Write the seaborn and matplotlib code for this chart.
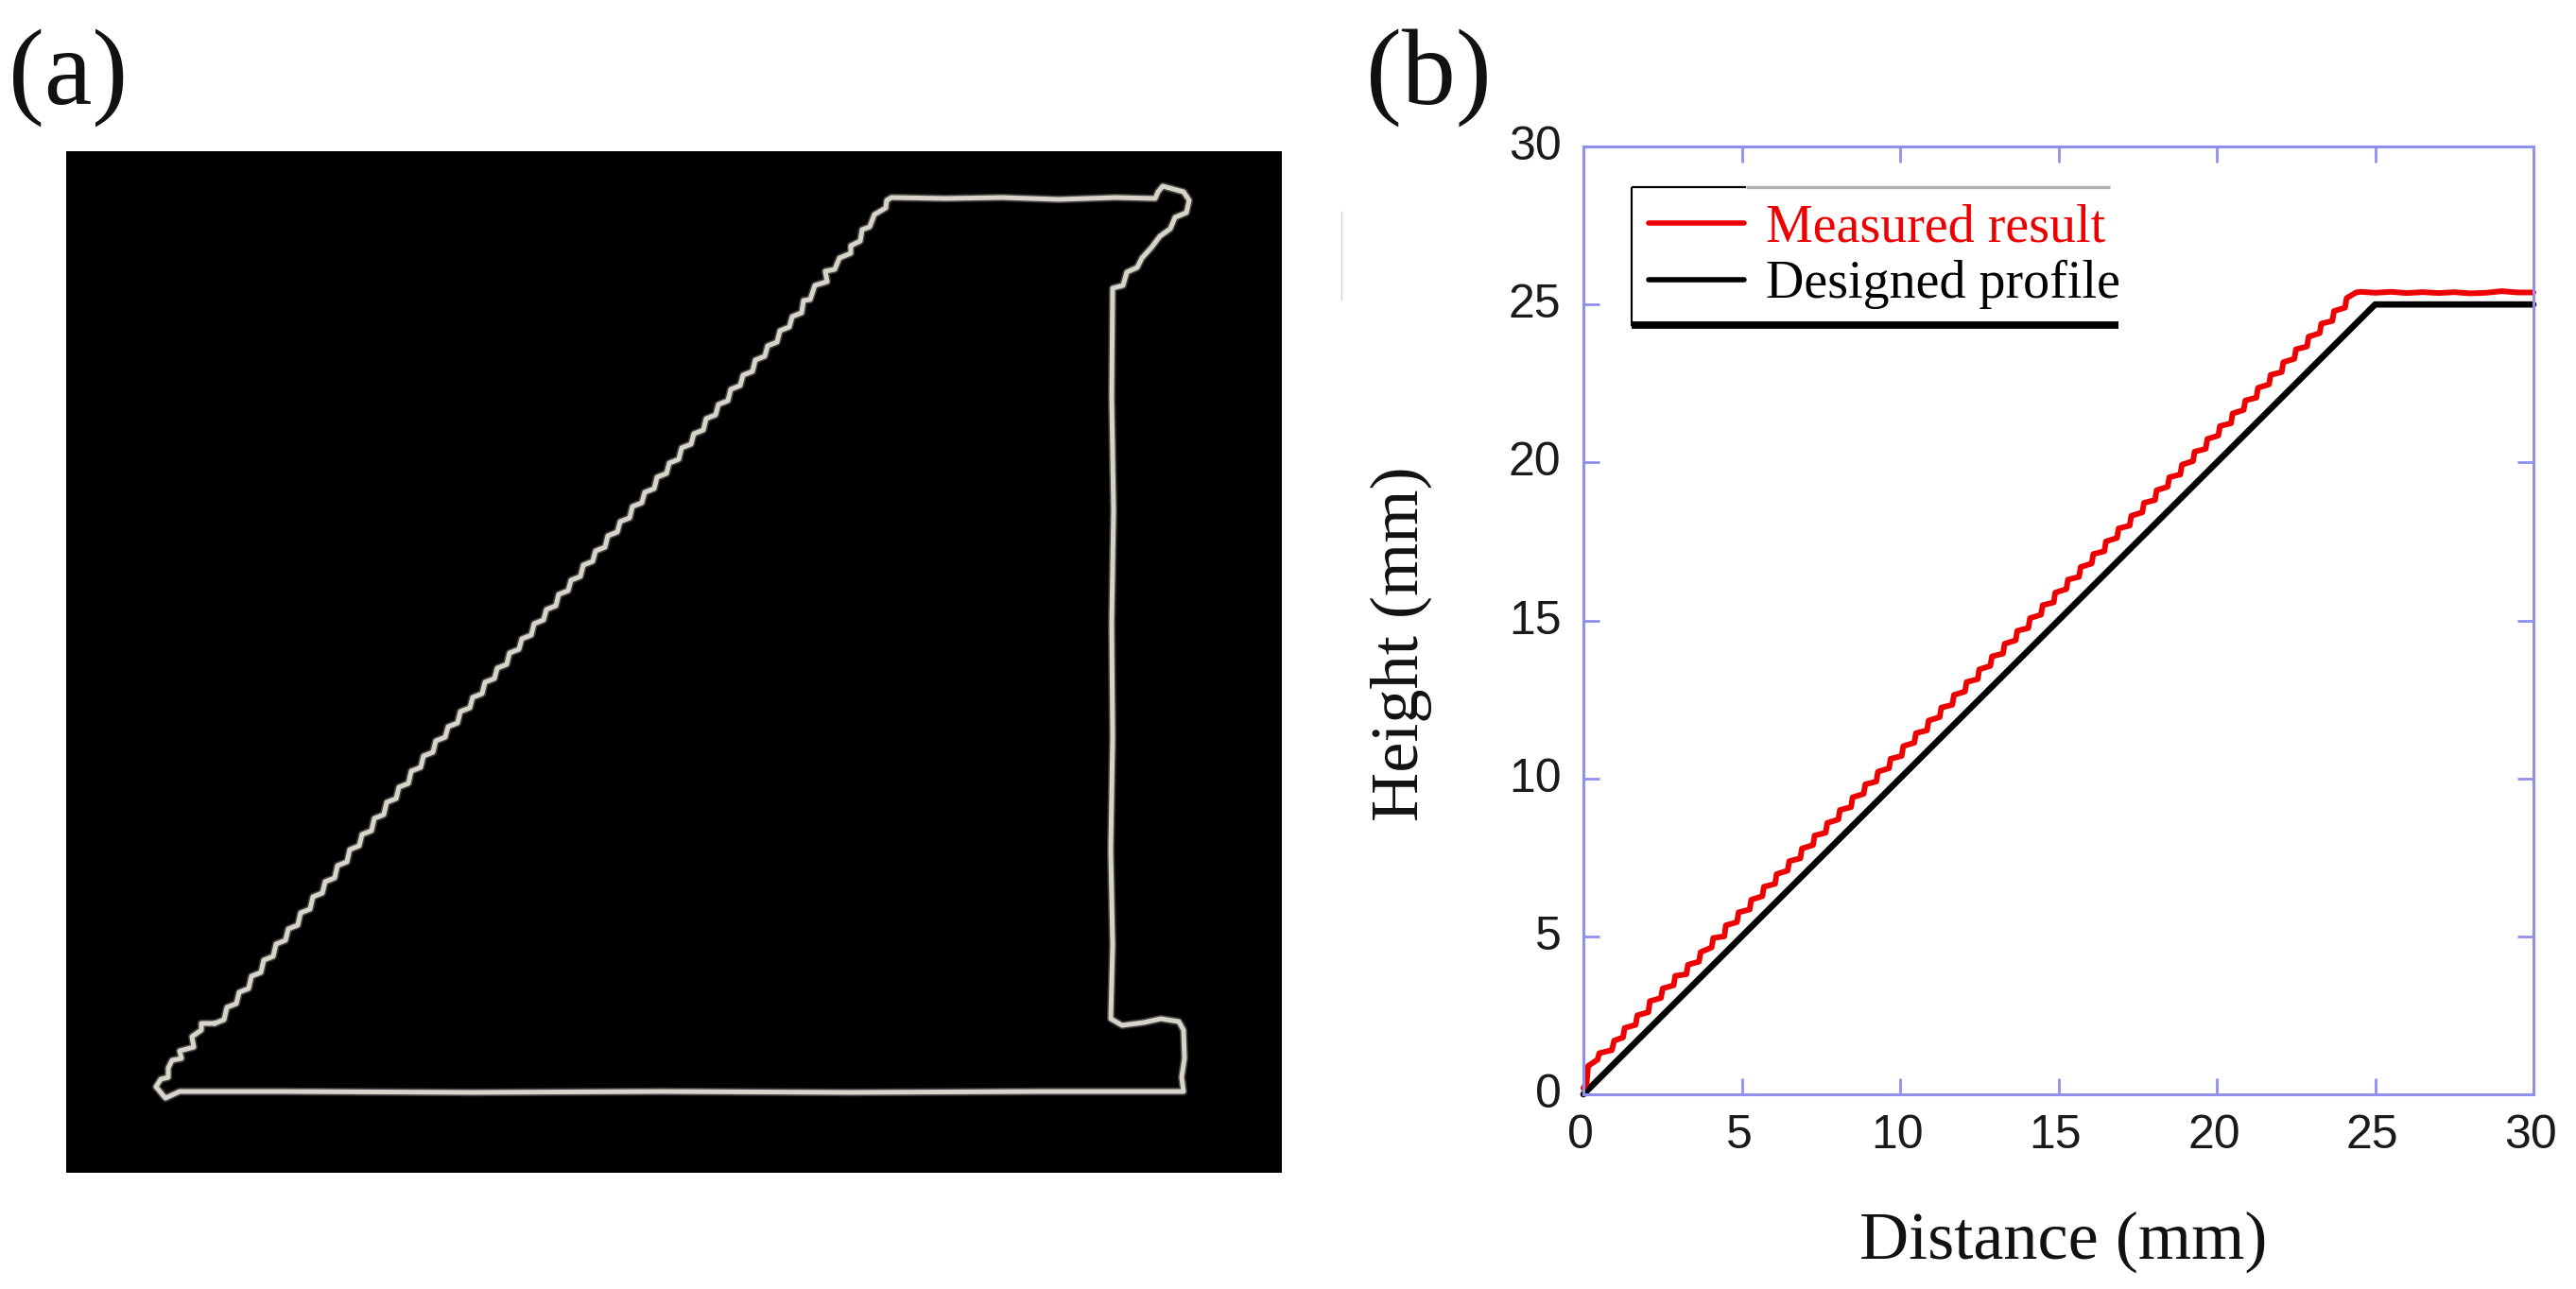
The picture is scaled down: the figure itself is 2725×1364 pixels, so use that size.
import matplotlib
matplotlib.use("Agg")
import matplotlib.pyplot as plt
from matplotlib.lines import Line2D
from matplotlib.transforms import ScaledTranslation
import seaborn as sns

W, H = 2725, 1364

# Panel (b) tick labels
tick_values = [0, 5, 10, 15, 20, 25, 30]

# Designed profile
designed_x = [0, 25, 30]
designed_y = [0, 25, 25]

# Measured result
measured_x = [0.0, 0.1, 0.15, 0.45,
    0.5, 0.9, 0.97, 1.25, 1.3, 1.65, 1.7, 2.05, 2.1, 2.45, 2.5, 2.85, 2.9, 3.25, 3.3, 3.65, 3.7, 4.05, 4.1, 4.45,
    4.5, 4.85, 4.9, 5.25, 5.3, 5.65, 5.7, 6.05, 6.1, 6.45, 6.5, 6.85, 6.9, 7.25, 7.3, 7.65, 7.7, 8.05, 8.1, 8.45,
    8.5, 8.85, 8.9, 9.25, 9.3, 9.65, 9.7, 10.05, 10.1, 10.45, 10.5, 10.85, 10.9, 11.25, 11.3, 11.65, 11.7, 12.05,
    12.1, 12.45, 12.5, 12.85, 12.9, 13.25, 13.3, 13.65, 13.7, 14.05, 14.1, 14.45, 14.5, 14.85, 14.9, 15.25, 15.3,
    15.65, 15.7, 16.05, 16.1, 16.45, 16.5, 16.85, 16.9, 17.25, 17.3, 17.65, 17.7, 18.05, 18.1, 18.45, 18.5, 18.85,
    18.9, 19.25, 19.3, 19.65, 19.7, 20.05, 20.1, 20.45, 20.5, 20.85, 20.9, 21.25, 21.3, 21.65, 21.7, 22.05, 22.1,
    22.45, 22.5, 22.85, 22.9, 23.25, 23.3, 23.65, 23.7, 24.05, 24.1, 24.4,
    24.55, 25.0, 25.5, 26.0, 26.5, 27.0, 27.5, 28.0, 28.5, 29.0, 29.5, 30.0]
measured_y = [0.2, 0.35, 0.9, 1.1,
    1.3, 1.4, 1.7, 1.8, 2.1, 2.2, 2.5, 2.6, 2.95, 3.05, 3.35, 3.45, 3.75, 3.8, 4.1, 4.2, 4.5, 4.65, 4.95, 5.0,
    5.35, 5.45, 5.76, 5.85, 6.16, 6.27, 6.57, 6.66, 6.97, 7.08, 7.38, 7.47, 7.78, 7.89, 8.19, 8.28, 8.59, 8.7, 9.0, 9.09,
    9.4, 9.51, 9.81, 9.9, 10.21, 10.32, 10.62, 10.71, 11.02, 11.13, 11.43, 11.52, 11.83, 11.94, 12.24, 12.33, 12.64, 12.75,
    13.05, 13.14, 13.45, 13.56, 13.86, 13.95, 14.26, 14.37, 14.67, 14.76, 15.07, 15.18, 15.48, 15.57, 15.88, 15.99, 16.29,
    16.38, 16.69, 16.8, 17.1, 17.19, 17.5, 17.61, 17.91, 18.0, 18.31, 18.42, 18.72, 18.81, 19.12, 19.23, 19.53, 19.62,
    19.93, 20.04, 20.34, 20.43, 20.74, 20.85, 21.15, 21.24, 21.55, 21.66, 21.96, 22.05, 22.36, 22.47, 22.77, 22.86, 23.17,
    23.28, 23.58, 23.67, 23.98, 24.09, 24.39, 24.48, 24.79, 24.9, 25.2, 25.38,
    25.4, 25.37, 25.4, 25.36, 25.39, 25.36, 25.39, 25.35, 25.37, 25.42, 25.38, 25.38]

# Panel (a) outline, read in image pixels
outline_x = [227, 237, 240, 250, 253, 263, 266, 276, 279, 289, 292, 302, 305, 315, 318, 328, 331, 341, 344, 354, 357, 367,
    370, 380, 383, 393, 396, 406, 409, 419, 422, 432, 435, 445, 448, 458, 461, 471, 474, 484, 487, 497, 500, 510, 513, 523,
    526, 536, 539, 549, 552, 562, 565, 575, 578, 588, 591, 601, 604, 614, 617, 627, 630, 640, 643, 653, 656, 666, 669, 679,
    682, 692, 695, 705, 708, 718, 721, 731, 734, 744, 747, 757, 760, 770, 773, 783, 786, 796, 799, 809, 812, 822, 825, 835,
    838, 848, 850, 857, 862, 875, 873, 883, 888, 900, 900, 910, 912, 920, 925, 937, 938, 943,
    1000, 1060, 1120, 1180, 1222, 1225, 1230, 1252, 1258, 1255, 1243, 1238, 1227, 1218, 1208, 1203, 1192, 1188, 1177,
    1176, 1178, 1176, 1177, 1175, 1177, 1175, 1187, 1210, 1228, 1247, 1252, 1253, 1250, 1252,
    1100, 900, 700, 500, 300, 190, 175, 165, 170, 178, 178, 182, 192, 190, 205, 203, 213, 213, 227]
outline_y = [1083, 1079, 1066, 1062, 1050, 1046, 1033, 1029, 1016, 1012, 999, 995, 983, 979, 966, 962, 949, 945, 933, 929, 916, 912,
    899, 895, 883, 879, 866, 862, 849, 845, 833, 829, 816, 812, 800, 796, 784, 780, 769, 765, 753, 749, 738, 734, 722, 718,
    707, 703, 691, 687, 676, 672, 660, 656, 645, 641, 629, 625, 614, 610, 598, 594, 583, 579, 567, 563, 552, 548, 536, 532,
    521, 517, 505, 501, 490, 486, 474, 470, 459, 455, 443, 439, 428, 424, 412, 408, 397, 393, 381, 377, 366, 362, 350, 346,
    335, 331, 318, 317, 302, 298, 287, 285, 273, 268, 260, 255, 243, 240, 227, 220, 212, 209,
    210, 209, 211, 209, 210, 203, 197, 203, 212, 225, 230, 242, 250, 262, 273, 283, 288, 302, 305,
    420, 540, 660, 780, 900, 1000, 1078, 1085, 1082, 1078, 1081, 1090, 1120, 1140, 1155,
    1155, 1156, 1155, 1156, 1155, 1155, 1162, 1150, 1142, 1140, 1130, 1122, 1120, 1112, 1108, 1097, 1090, 1083, 1083]

sns.set_theme(style="white")
plt.rcParams["font.family"] = ["Liberation Serif", "DejaVu Sans"]
SANS = ["Liberation Sans", "DejaVu Sans"]
AXIS = "#8f8fee"

fig = plt.figure(figsize=(W / 100, H / 100), dpi=100, facecolor="white")


def rect(l, t, r, b):
    return [l / W, 1 - b / H, (r - l) / W, (b - t) / H]


def fx(x):
    return x / W


def fy(y):
    return 1 - y / H


def seg(xs, ys, color, lw):
    fig.add_artist(Line2D([fx(v) for v in xs], [fy(v) for v in ys], color=color, lw=lw,
                          solid_capstyle="butt", transform=fig.transFigure))


# Panel (a)
ax_a = fig.add_axes(rect(70, 160, 1356, 1241), facecolor="black")
sns.lineplot(x=outline_x, y=outline_y, sort=False, estimator=None, color="#d8d4cb", lw=6.0, alpha=0.3, ax=ax_a)
sns.lineplot(x=outline_x, y=outline_y, sort=False, estimator=None, color="#d8d4cb", lw=3.6, ax=ax_a)
ax_a.set_xlim(70, 1356)
ax_a.set_ylim(1241, 160)
ax_a.set_xticks([])
ax_a.set_yticks([])
for s in ax_a.spines.values():
    s.set_visible(False)

# Panel (b)
ax_b = fig.add_axes(rect(1675, 155, 2680, 1158), facecolor="white")
sns.lineplot(x=designed_x, y=designed_y, sort=False, estimator=None, color="black", lw=4.8,
             ax=ax_b, label="Designed profile", clip_on=False)
sns.lineplot(x=measured_x, y=measured_y, sort=False, estimator=None, color="#ee0000", lw=4.3,
             ax=ax_b, label="Measured result", clip_on=False)
ax_b.set_xlim(0, 30)
ax_b.set_ylim(0, 30)
ax_b.set_xticks(tick_values)
ax_b.set_yticks(tick_values)
ax_b.tick_params(axis="both", which="major", direction="in", length=12, width=2, color=AXIS,
                 top=True, right=True, bottom=True, left=True, labelsize=36)
ax_b.tick_params(axis="x", pad=15)
ax_b.tick_params(axis="y", pad=17)
for lab in ax_b.get_xticklabels():
    lab.set_family(SANS)
    lab.set_color("#1a1a1a")
    lab.set_transform(lab.get_transform() + ScaledTranslation(-3 / 100, 0, fig.dpi_scale_trans))
for lab in ax_b.get_yticklabels():
    lab.set_family(SANS)
    lab.set_color("#1a1a1a")
    lab.set_transform(lab.get_transform() + ScaledTranslation(0, 4 / 100, fig.dpi_scale_trans))
for s in ax_b.spines.values():
    s.set_color(AXIS)
    s.set_linewidth(2.2)
    s.set_zorder(5)
ax_b.set_xlabel("")
ax_b.set_ylabel("")

handles, labels = ax_b.get_legend_handles_labels()
leg = ax_b.legend(handles[::-1], labels[::-1], loc="upper left",
                  bbox_to_anchor=(fx(1744), fy(216)), bbox_transform=fig.transFigure,
                  frameon=False, fontsize=40.3, labelcolor=["#ee0000", "black"],
                  handlelength=1.8, handletextpad=0.42, labelspacing=0.13,
                  borderpad=0.0, borderaxespad=0.0)
leg.get_lines()[0].set_linewidth(4.0)
leg.get_lines()[1].set_linewidth(4.0)

# Legend box edges
seg([1726, 1847], [198, 198], "black", 1.6)
seg([1847, 2232], [198, 198], "#b0b0b0", 2.4)
seg([1726, 1726], [198, 345], "black", 1.5)
seg([1726, 2241], [344, 344], "black", 5.6)

# Stray rule between the panels
seg([1419, 1419], [223, 318], "#d4d4d4", 1.0)

# Text
fig.text(fx(2183), fy(1314), "Distance (mm)", fontsize=52, ha="center", va="center", color="#111111")
fig.text(fx(1482), fy(681), "Height (mm)", fontsize=52, rotation=90, ha="center", va="center", color="#111111")
fig.text(fx(72), fy(82), "(a)", fontsize=82, ha="center", va="center", color="#111111")
fig.text(fx(1511), fy(82), "(b)", fontsize=82, ha="center", va="center", color="#111111")

fig.savefig("out.png", dpi=100, facecolor="white")
